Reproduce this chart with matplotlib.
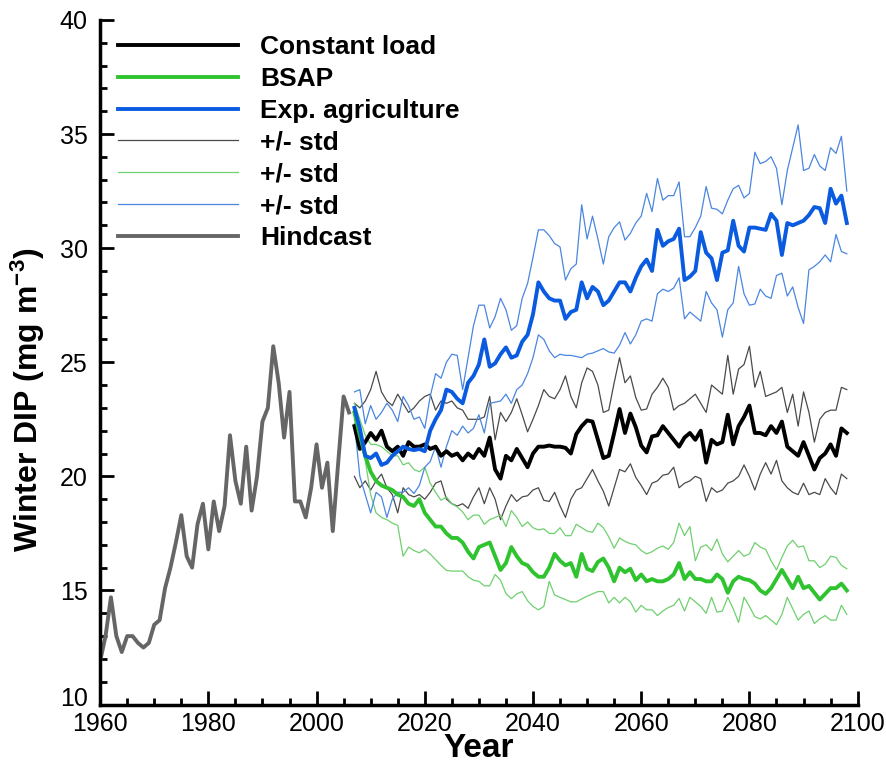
import matplotlib
matplotlib.use("Agg")
import matplotlib.pyplot as plt
import matplotlib.transforms as mtransforms
import numpy as np
from matplotlib.ticker import MultipleLocator

plt.rcParams["font.family"] = ["Liberation Sans", "DejaVu Sans"]
plt.rcParams["mathtext.fontset"] = "custom"
plt.rcParams["mathtext.rm"] = "Liberation Sans:bold"
plt.rcParams["mathtext.bf"] = "Liberation Sans:bold"
plt.rcParams["mathtext.default"] = "bf"

# hindcast 1960-2006
hind_years = np.arange(1960, 2007)
hindcast = [11.9, 13.0, 14.7, 13.0, 12.3, 13.0, 13.0, 12.7, 12.5, 12.7,
            13.5, 13.7, 15.1, 16.0, 17.1, 18.3, 16.5, 16.0, 17.9, 18.8,
            16.8, 18.9, 17.6, 18.7, 21.8, 19.8, 18.8, 21.3, 18.5, 20.0,
            22.4, 23.0, 25.7, 24.1, 21.7, 23.7, 18.9, 18.9, 18.2, 19.5,
            21.4, 19.5, 20.6, 17.6, 20.6, 23.5, 22.8]

# scenario runs 2007-2098
years = np.arange(2007, 2099)

const_mean = [22.2, 21.2, 21.5, 21.9, 21.6, 22.0, 21.3, 21.1, 21.3, 20.9,
              21.5, 21.3, 21.3, 21.4, 21.2, 21.3, 20.9, 21.1, 20.9, 21.0,
              20.7, 21.0, 20.8, 21.2, 20.9, 21.7, 20.3, 19.9, 20.9, 20.7,
              21.2, 20.8, 20.4, 21.0, 21.3, 21.3, 21.35, 21.3, 21.3, 21.25,
              21.0, 21.85, 22.2, 22.45, 22.4, 21.6, 20.8, 20.9, 21.9, 22.95,
              21.9, 22.75, 22.15, 21.35, 21.05, 21.75, 21.8, 22.2, 21.9, 21.6,
              21.3, 21.7, 21.9, 21.6, 22.0, 20.6, 21.6, 21.4, 21.5, 22.7,
              21.4, 22.2, 22.6, 23.1, 21.9, 21.9, 21.8, 22.2, 21.9, 22.4,
              21.3, 21.1, 20.9, 21.5, 20.9, 20.3, 20.8, 21.0, 21.4, 20.9,
              22.1, 21.9]
const_hi = [23.2, 23.0, 23.3, 23.8, 24.6, 23.7, 23.3, 23.1, 23.6, 23.2,
            22.8, 23.0, 23.3, 23.5, 23.6, 22.9, 23.3, 23.2, 23.3, 23.0,
            22.9, 22.5, 22.5, 22.5, 22.6, 23.5, 21.6, 22.8, 22.4, 22.8,
            23.4, 22.7, 21.95, 22.5, 23.1, 23.8, 23.5, 23.4, 23.8, 24.4,
            23.5, 23.0, 24.1, 24.75, 24.6, 24.0, 22.8, 22.9, 24.1, 25.2,
            24.1, 24.4, 23.45, 22.9, 22.95, 23.6, 23.9, 24.3, 23.9, 22.9,
            23.1, 23.2, 23.4, 23.6, 23.2, 22.8, 24.0, 23.8, 23.6, 25.3,
            23.6, 24.7, 24.9, 25.7, 23.9, 24.6, 23.5, 23.6, 23.7, 23.9,
            22.8, 23.6, 22.2, 23.7, 22.8, 21.5, 22.5, 22.8, 22.9, 22.9,
            23.9, 23.8]
const_lo = [20.0, 19.5, 19.8, 19.4, 19.8, 20.1, 19.5, 19.2, 18.4, 19.5,
            19.2, 19.1, 19.2, 19.0, 19.3, 19.7, 19.8, 19.0, 18.8, 18.7,
            18.8, 18.6, 19.1, 19.5, 18.8, 19.5, 19.0, 18.1, 18.7, 19.2,
            18.9, 19.1, 19.15, 19.4, 19.5, 18.95, 18.9, 19.3, 18.7, 18.2,
            19.0, 19.4, 19.5, 19.9, 20.3, 19.8, 19.35, 18.7, 19.5, 20.3,
            20.2, 20.55, 19.95, 19.6, 19.2, 19.7, 19.8, 20.05, 20.1, 20.4,
            19.5, 19.7, 19.8, 20.0, 19.9, 18.9, 19.5, 19.3, 19.4, 19.7,
            19.8, 20.0, 20.5, 20.0, 19.4, 20.1, 20.6, 20.1, 20.7, 19.8,
            19.5, 19.3, 19.2, 19.7, 19.2, 19.3, 19.2, 19.9, 19.5, 19.2,
            20.1, 19.9]

bsap_mean = [22.8, 21.8, 20.9, 20.2, 19.8, 19.6, 19.5, 19.4, 19.2, 19.1,
             18.8, 18.7, 19.0, 18.4, 18.1, 17.8, 17.8, 17.5, 17.3, 17.3,
             17.1, 16.7, 16.4, 16.9, 17.0, 17.1, 16.5, 15.9, 16.2, 16.9,
             16.5, 16.2, 16.1, 15.8, 15.6, 15.6, 16.0, 16.6, 16.3, 16.1,
             16.2, 15.6, 16.6, 15.95, 15.85, 16.25, 16.4, 16.0, 15.4, 16.0,
             15.8, 15.95, 15.45, 15.7, 15.4, 15.5, 15.4, 15.4, 15.5, 15.7,
             16.2, 15.5, 15.8, 15.5, 15.5, 15.4, 15.4, 15.7, 15.5, 14.9,
             15.4, 15.6, 15.5, 15.45, 15.3, 15.0, 14.85, 15.1, 15.5, 15.9,
             15.5, 15.1, 15.6, 15.1, 15.2, 14.9, 14.6, 14.85, 15.1, 15.1,
             15.3, 15.0]
bsap_hi = [23.2, 22.5, 21.8, 21.4, 21.4, 21.3, 21.1, 20.9, 20.9, 20.5,
           20.6, 20.3, 20.2, 20.4, 19.7, 19.3, 18.95, 19.1, 18.8, 18.66,
           18.44, 18.1, 18.3, 18.3, 17.9, 18.1, 18.2, 18.3, 17.8, 18.5,
           18.2, 17.8, 18.0, 17.75, 17.65, 17.7, 17.5, 17.5, 17.75, 17.4,
           17.4, 17.9, 17.75, 17.6, 17.55, 17.95, 17.75, 17.35, 16.85, 17.3,
           17.15, 17.05, 17.0, 16.75, 16.6, 16.7, 16.85, 16.95, 16.8, 17.1,
           17.95, 17.4, 17.8, 16.3, 16.9, 17.0, 16.75, 17.25, 16.6, 16.25,
           16.5, 16.75, 16.5, 16.6, 17.1, 16.9, 16.8, 16.3, 15.9, 16.45,
           16.95, 17.2, 16.9, 16.95, 16.3, 16.3, 16.0, 16.15, 16.5, 16.45,
           16.1, 15.95]
bsap_lo = [22.5, 21.5, 20.7, 19.2, 18.4, 18.2, 18.1, 17.95, 17.85, 16.5,
           16.9, 16.75, 16.65, 16.8, 16.6, 16.35, 16.1, 15.88, 15.85, 15.85,
           15.85, 15.6, 15.45, 15.4, 15.2, 15.2, 15.7, 15.45, 14.86, 14.64,
           14.85, 14.95, 14.55, 14.3, 14.15, 14.3, 15.4, 14.8, 14.7, 14.6,
           14.5, 14.5, 14.63, 14.75, 14.85, 14.95, 14.95, 14.45, 14.7, 14.45,
           14.7, 14.5, 14.05, 14.35, 14.15, 14.15, 13.9, 14.1, 14.25, 14.35,
           14.65, 14.1, 14.7, 14.5, 14.3, 14.0, 14.7, 14.05, 14.1, 14.7,
           14.2, 13.6, 14.7, 14.3, 13.85, 13.75, 13.9, 13.7, 13.5, 13.95,
           14.7, 14.2, 13.7, 13.95, 14.1, 13.55, 13.75, 13.9, 13.7, 13.7,
           14.35, 13.95]

agri_mean = [23.0, 22.1, 20.9, 20.8, 21.0, 20.5, 20.6, 20.9, 21.1, 21.3,
             21.2, 21.15, 21.2, 21.1, 22.0, 22.5, 22.9, 23.8, 23.7, 23.4,
             23.2, 24.1, 24.4, 24.9, 26.0, 24.8, 24.95, 25.35, 25.65, 25.2,
             25.3, 25.9, 26.2, 27.1, 28.5, 28.1, 27.8, 27.7, 27.7, 26.9,
             27.2, 27.3, 28.5, 27.8, 28.3, 28.1, 27.5, 27.7, 28.1, 28.5,
             28.5, 28.1, 28.7, 29.2, 29.5, 29.0, 30.8, 30.1, 30.3, 30.4,
             30.85, 28.6, 28.75, 29.0, 30.7, 29.8, 29.55, 28.6, 29.8, 29.9,
             31.2, 30.1, 29.85, 30.9, 30.9, 30.85, 30.8, 31.5, 31.2, 29.7,
             31.1, 31.0, 31.1, 31.2, 31.45, 31.8, 31.75, 31.1, 32.6, 31.95,
             32.3, 31.1]
agri_hi = [23.7, 23.8, 22.3, 23.1, 22.5, 22.8, 23.2, 22.9, 22.4, 23.5,
           23.1, 22.5, 22.6, 22.1, 23.5, 24.5, 24.3, 25.0, 25.35, 25.3,
           23.8, 25.2, 26.6, 27.5, 27.5, 26.5, 27.0, 27.8, 27.3, 26.4,
           26.6, 27.8, 28.45, 29.6, 30.8, 30.8, 30.55, 30.2, 30.05, 28.6,
           29.1, 29.3, 31.9, 30.4, 31.4, 30.4, 29.3, 30.5, 30.9, 31.15,
           30.35, 30.65, 31.1, 31.4, 32.4, 31.6, 33.05, 32.1, 32.3, 32.3,
           32.9, 30.5, 30.5, 30.9, 31.4, 32.7, 31.75, 31.7, 31.5, 32.1,
           32.6, 32.75, 32.2, 32.4, 34.2, 33.7, 33.8, 34.0, 33.5, 31.9,
           33.4, 34.4, 35.4, 33.4, 33.5, 34.1, 33.6, 33.4, 34.4, 34.15,
           34.9, 32.5]
agri_lo = [22.3, 20.0, 19.2, 18.4, 19.3, 19.1, 18.2, 19.0, 19.3, 19.3,
           19.5, 19.25, 19.6, 20.4, 20.65, 21.3, 20.4, 21.3, 22.0, 21.8,
           22.2, 21.9, 22.1, 22.7, 21.9, 23.2, 23.25, 23.3, 23.6, 23.2,
           23.8, 24.0, 24.5, 25.2, 26.2, 26.0, 25.5, 25.2, 25.35, 25.3,
           25.3, 25.25, 25.2, 25.35, 25.4, 25.5, 25.6, 25.45, 25.4, 25.75,
           26.3, 25.8, 26.2, 26.8, 26.9, 26.8, 28.0, 28.2, 28.1, 28.25,
           28.7, 26.9, 27.2, 27.0, 26.8, 28.1, 27.6, 27.3, 26.1, 27.3,
           27.6, 29.2, 28.0, 27.5, 27.55, 28.2, 27.9, 27.8, 28.8, 28.9,
           27.9, 28.3, 27.4, 26.7, 29.05, 29.2, 29.4, 29.7, 29.4, 30.6,
           29.85, 29.75]

fig, ax = plt.subplots(figsize=(8.86, 7.65), dpi=100)
fig.subplots_adjust(left=0.113, right=0.968, bottom=0.079, top=0.974)

thin = 0.9
thick = 2.8
ax.plot(years, const_hi, color="#4a4a4a", lw=thin)
ax.plot(years, const_lo, color="#4a4a4a", lw=thin)
ax.plot(years, bsap_hi, color="#6fd06f", lw=thin)
ax.plot(years, bsap_lo, color="#6fd06f", lw=thin)
ax.plot(years, agri_hi, color="#4a86e0", lw=thin)
ax.plot(years, agri_lo, color="#4a86e0", lw=thin)
ax.plot(hind_years, hindcast, color="#666666", lw=thick)
ax.plot(years, const_mean, color="black", lw=thick)
ax.plot(years, bsap_mean, color="#2fc42f", lw=thick)
ax.plot(years, agri_mean, color="#0a5be0", lw=thick)

# legend handles in display order
h = [plt.Line2D([], [], color="black", lw=thick),
     plt.Line2D([], [], color="#2fc42f", lw=thick),
     plt.Line2D([], [], color="#0a5be0", lw=thick),
     plt.Line2D([], [], color="#4a4a4a", lw=thin),
     plt.Line2D([], [], color="#6fd06f", lw=thin),
     plt.Line2D([], [], color="#4a86e0", lw=thin),
     plt.Line2D([], [], color="#666666", lw=thick)]
labels = ["Constant load", "BSAP", "Exp. agriculture",
          "+/- std", "+/- std", "+/- std", "Hindcast"]
leg = ax.legend(h, labels, loc="upper left", bbox_to_anchor=(0.024, 0.978),
                frameon=False, fontsize=19, handlelength=4.55, handletextpad=0.83,
                labelspacing=0.3, borderpad=0, borderaxespad=0)
for t in leg.get_texts():
    t.set_fontweight("bold")

ax.set_xlim(1960, 2100)
ax.set_ylim(10, 40)
ax.xaxis.set_major_locator(MultipleLocator(20))
ax.xaxis.set_minor_locator(MultipleLocator(5))
ax.yaxis.set_major_locator(MultipleLocator(5))
ax.yaxis.set_minor_locator(MultipleLocator(1))
ax.tick_params(which="both", direction="in", width=2, labelsize=18)
ax.tick_params(which="major", length=10)
ax.tick_params(which="minor", length=5)
ax.tick_params(axis="x", pad=5)
ax.tick_params(axis="y", pad=9)

for side in ["top", "right"]:
    ax.spines[side].set_visible(False)
for side in ["left", "bottom"]:
    ax.spines[side].set_linewidth(2.5)

ax.set_xlabel("Year", fontsize=24, fontweight="bold", labelpad=-2)
ax.set_ylabel("Winter DIP (mg m$^{-3}$)", fontsize=23, fontweight="bold")
ax.yaxis.set_label_coords(-0.07, 0.445)

# lift the "10" label a little so it clears the 1960 label
fig.canvas.draw()
lift = mtransforms.ScaledTranslation(0, 6 / 72, fig.dpi_scale_trans)
for tick in ax.yaxis.get_major_ticks():
    if abs(tick.get_loc() - 10) < 1e-6:
        tick.label1.set_transform(tick.label1.get_transform() + lift)

fig.savefig("out.png", dpi=100)
